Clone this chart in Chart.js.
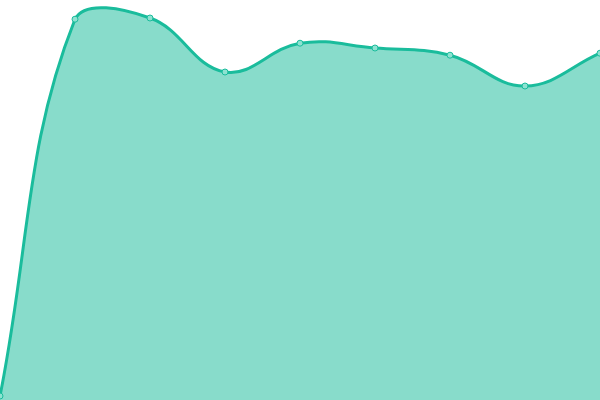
<!DOCTYPE html>
<html>
<head>
<meta charset="utf-8">
<script src="https://cdn.jsdelivr.net/npm/chart.js@4/dist/chart.umd.min.js"></script>
<style>
  html, body { margin: 0; padding: 0; background: #fff; }
  #wrap { width: 600px; height: 400px; }
</style>
</head>
<body>
<div id="wrap"><canvas id="areaChart"></canvas></div>
<script>
const labels = ['1', '2', '3', '4', '5', '6', '7', '8', '9'];
const values = [1, 95.2, 95.5, 82, 89.2, 88, 86.2, 78.5, 86.7];

new Chart(document.getElementById('areaChart'), {
  type: 'line',
  data: {
    labels: labels,
    datasets: [{
      data: values,
      borderColor: '#1abc9c',
      backgroundColor: 'rgba(26, 188, 156, 0.52)',
      borderWidth: 3,
      fill: true,
      tension: 0.4,
      pointRadius: 3,
      pointBorderWidth: 1,
      pointBackgroundColor: '#8ee2d1',
      pointBorderColor: '#1abc9c'
    }]
  },
  options: {
    animation: false,
    maintainAspectRatio: false,
    layout: { padding: 0, autoPadding: false },
    plugins: { legend: { display: false }, tooltip: { enabled: false } },
    scales: {
      x: { display: false, offset: false },
      y: { display: false, min: 0, max: 100 }
    }
  }
});
</script>
</body>
</html>
